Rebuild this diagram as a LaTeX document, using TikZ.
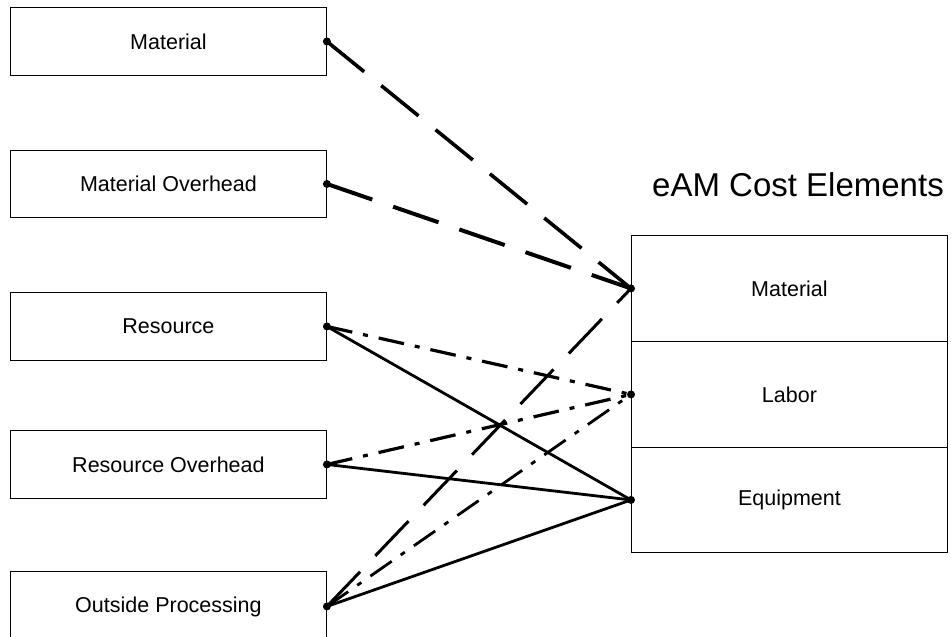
\documentclass[tikz,border=0pt]{standalone}
\usepackage{fontspec}
\setmainfont{Liberation Sans}
\begin{document}
\begin{tikzpicture}[x=1pt,y=-1pt,
  lbox/.style={draw, line width=0.9pt, minimum width=316pt, minimum height=68pt, inner sep=0pt, font=\fontsize{21.5}{25}\selectfont, anchor=north west},
  cell/.style={draw, line width=0.9pt, minimum width=316pt, inner sep=0pt, font=\fontsize{21.5}{25}\selectfont, anchor=north west},
  ldash/.style={line width=3.6pt, dash pattern=on 48pt off 22pt},
  ldashdot/.style={line width=3.2pt, dash pattern=on 26pt off 11pt on 5pt off 11pt},
  lsolid/.style={line width=2.8pt},
  enddot/.style={circle, fill=black, inner sep=0pt, minimum size=8pt}]
\useasboundingbox (0,0) rectangle (951,637);
\begin{scope}
\clip (0,0) rectangle (951,637);
\node[lbox] (m) at (10,7) {Material};
\node[lbox, minimum height=67pt] (mo) at (10,150) {Material Overhead};
\node[lbox] (r) at (10,292) {Resource};
\node[lbox] (ro) at (10,430) {Resource Overhead};
\node[lbox, minimum height=70pt] (op) at (10,571) {Outside Processing};
\node[cell, minimum height=106pt] (cm) at (631,235) {Material};
\node[cell, minimum height=106pt] (cl) at (631,341) {Labor};
\node[cell, minimum height=105pt] (ce) at (631,447) {Equipment};
\node[font=\fontsize{33}{38}\selectfont, anchor=center] (title) at (798,185) {eAM Cost Elements};
\draw[ldash] (m.east) -- (cm.west);
\draw[ldash, line width=4pt] (mo.east) -- (cm.west);
\draw[ldashdot] (r.east) -- (cl.west);
\draw[lsolid] (r.east) -- (ce.west);
\draw[ldashdot] (ro.east) -- (cl.west);
\draw[lsolid] (ro.east) -- (ce.west);
\draw[ldash, line width=3pt] (op.east) -- (cm.west);
\draw[ldashdot, line width=2.8pt] (op.east) -- (cl.west);
\draw[lsolid] (op.east) -- (ce.west);
\foreach \n in {m,mo,r,ro,op} \node[enddot] at (\n.east) {};
\foreach \n in {cm,cl,ce} \node[enddot] at (\n.west) {};
\end{scope}
\end{tikzpicture}
\end{document}
